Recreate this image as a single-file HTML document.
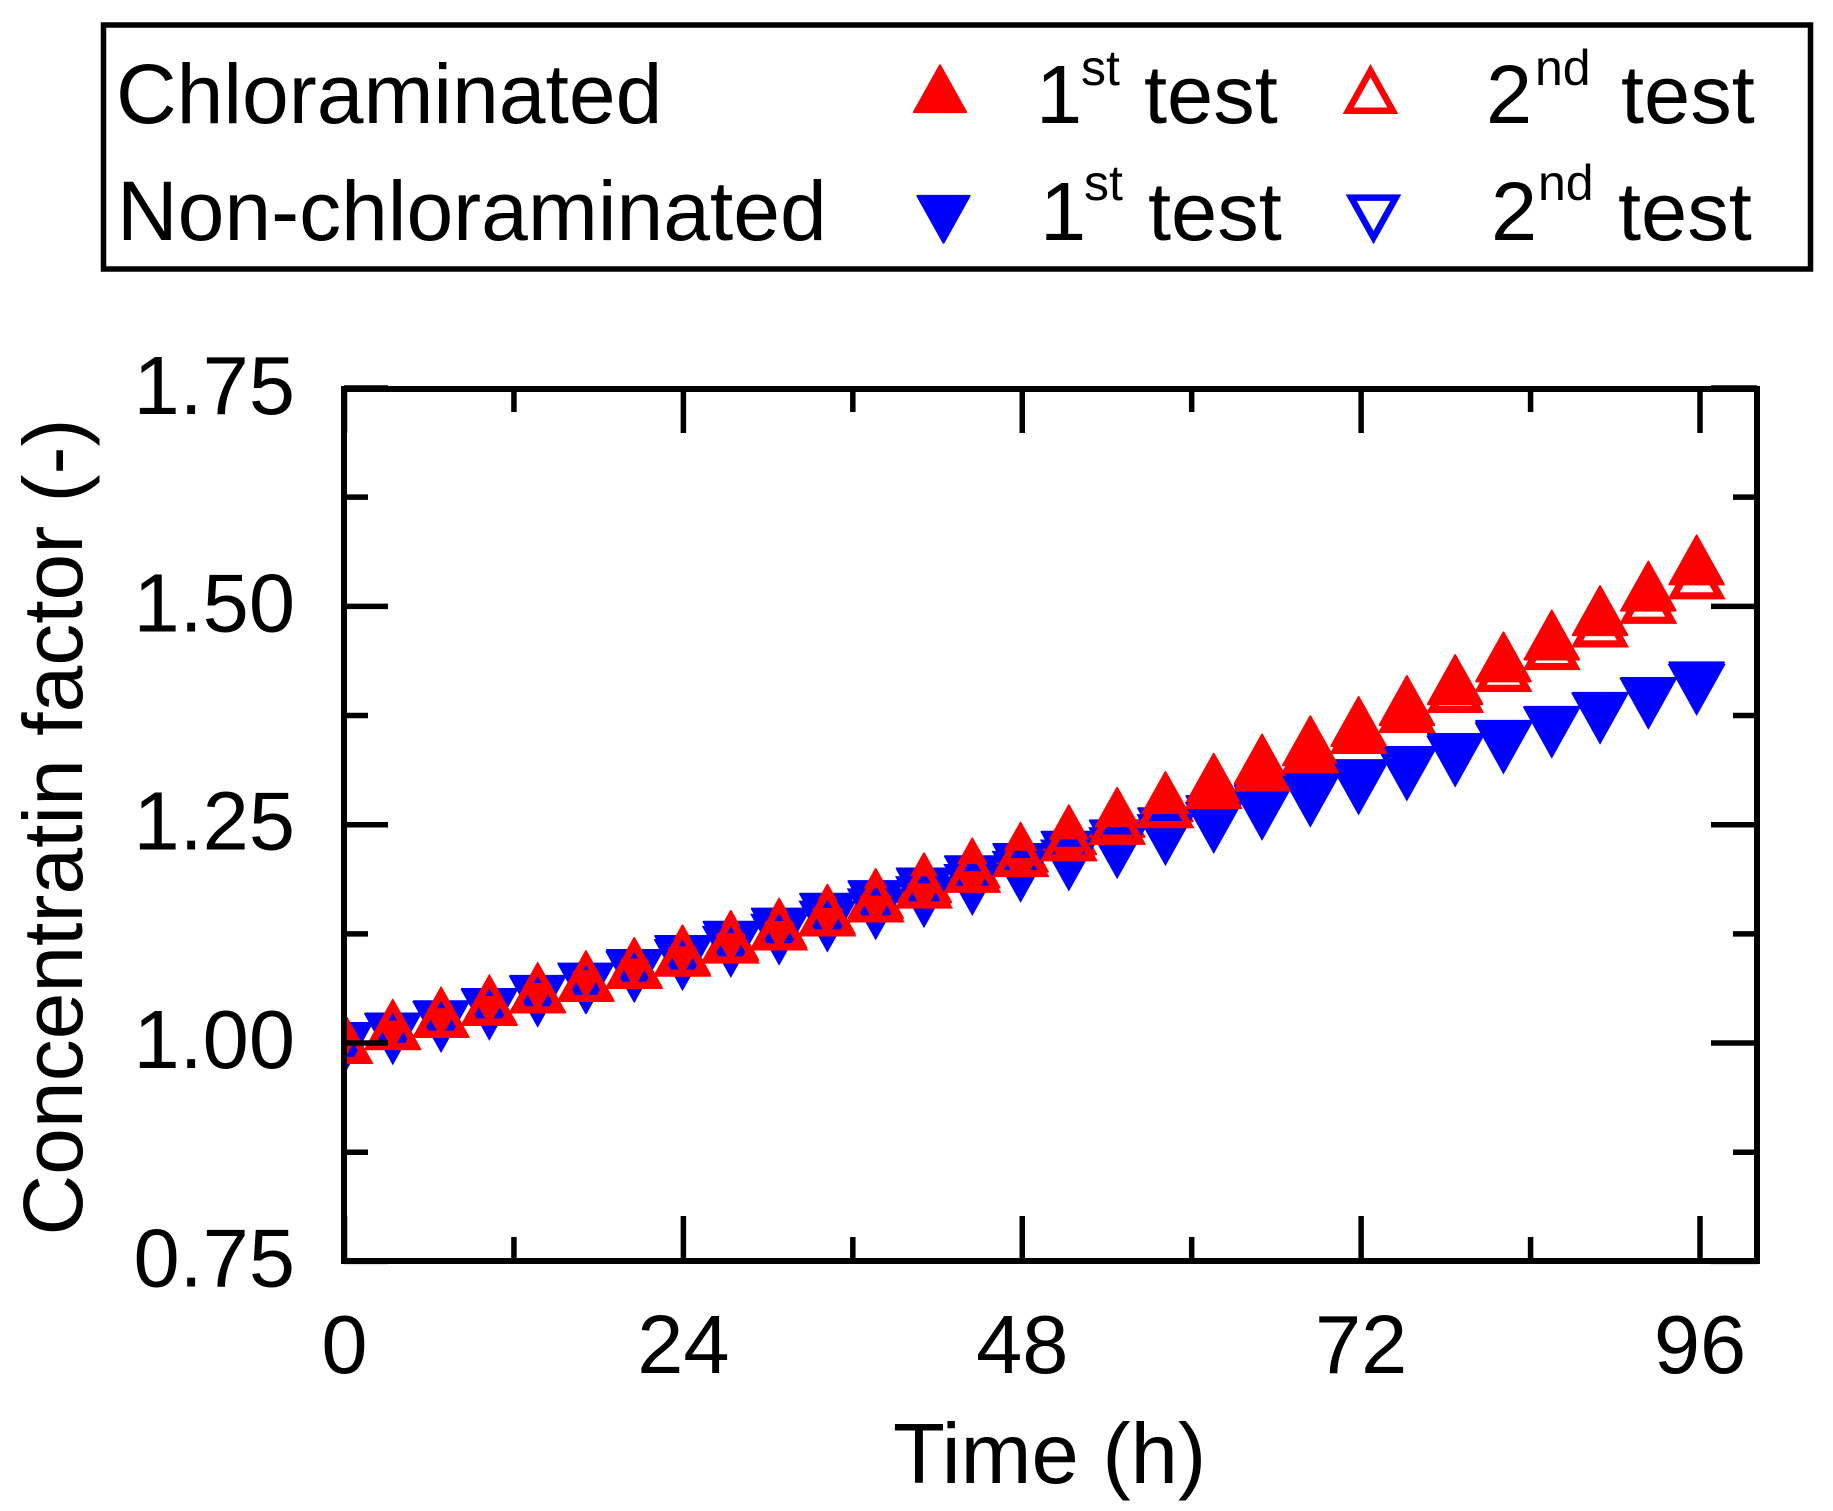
<!DOCTYPE html>
<html>
<head>
<meta charset="utf-8">
<title>Concentration factor chart</title>
<style>
html,body{margin:0;padding:0;background:#fff;}
svg{display:block;}
text{font-family:"Liberation Sans",Arial,sans-serif;fill:#000;font-size:83px;}
.sup{font-size:50px;}
.big{font-size:84px;}
</style>
</head>
<body>
<svg id="chart" width="1833" height="1511" viewBox="0 0 1833 1511" xmlns="http://www.w3.org/2000/svg">
  <rect x="0" y="0" width="1833" height="1511" fill="#fff"/>
  <g id="legend">
    <rect x="103.5" y="25" width="1707" height="244" fill="none" stroke="#000" stroke-width="5.5"/>
    <text class="big" x="116" y="123">Chloraminated</text>
    <text class="big" x="117" y="240">Non-chloraminated</text>
    <g>
      <text x="1036" y="123">1</text><text class="sup" x="1081" y="85">st</text><text x="1144" y="123">test</text>
    </g>
    <g>
      <text x="1486" y="123">2</text><text class="sup" x="1535" y="85">nd</text><text x="1621" y="123">test</text>
    </g>
    <g>
      <text x="1040" y="240">1</text><text class="sup" x="1084" y="200">st</text><text x="1148" y="240">test</text>
    </g>
    <g>
      <text x="1491" y="240">2</text><text class="sup" x="1538" y="200">nd</text><text x="1618" y="240">test</text>
    </g>
  </g>
  <defs>
    <clipPath id="plot-clip"><rect x="344" y="388" width="1413" height="873"/></clipPath>
  </defs>
  <g id="marks" clip-path="url(#plot-clip)"></g>
  <g id="axes"></g>
  <text x="893" y="1483" style="font-size:85px">Time (h)</text>
  <text class="big" text-anchor="middle" transform="translate(82 827) rotate(-90)">Concentratin factor (-)</text>
</svg>
<script>
const times = [0,3.42,6.84,10.26,13.68,17.1,20.52,23.94,27.36,30.78,34.2,37.62,41.04,44.46,47.88,51.3,54.72,58.14,61.56,64.98,68.4,71.82,75.24,78.66,82.08,85.5,88.92,92.34,95.76];
const chloraminatedTest1 = [1.000,1.016,1.030,1.0435,1.058,1.072,1.087,1.1015,1.118,1.132,1.148,1.166,1.184,1.201,1.219,1.239,1.259,1.277,1.298,1.320,1.341,1.363,1.387,1.411,1.437,1.462,1.490,1.518,1.548];
const chloraminatedTest2 = [1.000,1.016,1.030,1.044,1.058,1.071,1.086,1.100,1.115,1.130,1.146,1.162,1.178,1.196,1.214,1.232,1.251,1.270,1.292,1.312,1.333,1.355,1.379,1.402,1.426,1.451,1.477,1.504,1.532];
const nonChloraminatedTest1 = [1.000,1.011,1.025,1.039,1.054,1.0675,1.0836,1.0996,1.116,1.131,1.148,1.1625,1.177,1.191,1.205,1.219,1.232,1.246,1.260,1.272,1.286,1.301,1.316,1.331,1.346,1.362,1.378,1.395,1.413];
const nonChloraminatedTest2 = [1.000,1.010,1.024,1.038,1.053,1.068,1.081,1.095,1.110,1.124,1.139,1.153,1.167,1.181,1.196,1.209,1.223,1.238,1.252,1.267,1.282,1.296,1.312,1.328,1.343,1.361,1.377,1.394,1.410];
const xMajorTicks = [0,24,48,72,96];
const xMinorTicks = [12,36,60,84];
const yMajorTicks = [0.75,1.00,1.25,1.50,1.75];
const yMinorTicks = [0.875,1.125,1.375,1.625];
const xTickLabels = ['0','24','48','72','96'];
const yTickLabels = ['0.75','1.00','1.25','1.50','1.75'];

const NS = 'http://www.w3.org/2000/svg';
const RED = '#ff0000';
const BLUE = '#0000ff';
const xMin = 0, xMax = 100, yMin = 0.75, yMax = 1.75;
const left = 344.5, right = 1756.5, top_ = 389, bottom = 1261.4;
function xScale(t) { return left + (t - xMin) / (xMax - xMin) * (right - left); }
function yScale(v) { return bottom - (v - yMin) / (yMax - yMin) * (bottom - 388); }

// Triangle outline inset so the painted outer edge keeps the same size.
function trianglePoints(cx, cy, dir, scale, strokeW) {
  const inr = 17.04 * scale;
  const k = (inr - strokeW / 2) / inr;
  const inc = 3.96 * scale * dir;
  const pts = [[0, -31 * scale * dir], [29 * scale, 21 * scale * dir], [-29 * scale, 21 * scale * dir]];
  return pts.map(function (p) {
    return (cx + p[0] * k).toFixed(2) + ',' + (cy + inc + (p[1] - inc) * k).toFixed(2);
  }).join(' ');
}
function marker(parent, cx, cy, dir, color, filled, scale, openW) {
  const el = document.createElementNS(NS, 'polygon');
  const w = filled ? 2 : openW;
  el.setAttribute('points', trianglePoints(cx, cy, dir, scale, w));
  el.setAttribute('fill', filled ? color : 'none');
  el.setAttribute('stroke', color);
  el.setAttribute('stroke-width', w);
  el.setAttribute('stroke-linejoin', filled ? 'round' : 'miter');
  el.setAttribute('stroke-miterlimit', '10');
  parent.appendChild(el);
  return el;
}
function drawSeries(values, dir, color, filled, name) {
  const g = document.createElementNS(NS, 'g');
  
  
  document.getElementById('marks').appendChild(g);
  values.forEach(function (v, i) {
    const el = marker(g, xScale(times[i]), yScale(v), dir, color, filled, 1, 7.2);
    
    
  });
}
drawSeries(nonChloraminatedTest1, -1, BLUE, true, 'series-non-chloraminated-test-1');
drawSeries(chloraminatedTest1, 1, RED, true, 'series-chloraminated-test-1');
drawSeries(nonChloraminatedTest2, -1, BLUE, false, 'series-non-chloraminated-test-2');
drawSeries(chloraminatedTest2, 1, RED, false, 'series-chloraminated-test-2');

const legendGroup = document.getElementById('legend');
const lm1 = marker(legendGroup, 940, 93, 1, RED, true, 0.96, 6.5);


const lm2 = marker(legendGroup, 1370.5, 93.8, 1, RED, false, 0.96, 6.5);


const lm3 = marker(legendGroup, 943.5, 215, -1, BLUE, true, 0.96, 6.5);


const lm4 = marker(legendGroup, 1373.5, 214.5, -1, BLUE, false, 0.96, 6.5);



const axes = document.getElementById('axes');
function line(x1, y1, x2, y2, w, name) {
  const el = document.createElementNS(NS, 'line');
  el.setAttribute('x1', x1);
  el.setAttribute('y1', y1);
  el.setAttribute('x2', x2);
  el.setAttribute('y2', y2);
  el.setAttribute('stroke', '#000');
  el.setAttribute('stroke-width', w);
  
  
  axes.appendChild(el);
}
function label(str, x, y, anchor, name) {
  const el = document.createElementNS(NS, 'text');
  el.textContent = str;
  el.setAttribute('x', x);
  el.setAttribute('y', y);
  el.setAttribute('text-anchor', anchor);
  
  
  axes.appendChild(el);
}
const tickW = 5.5;
xMajorTicks.forEach(function (t, i) {
  const x = xScale(t);
  line(x, 1261, x, 1216, tickW, 'x-major-tick-bottom');
  line(x, 389, x, 433, tickW, 'x-major-tick-top');
  label(xTickLabels[i], x, 1373, 'middle', 'x-tick-label');
});
xMinorTicks.forEach(function (t) {
  const x = xScale(t);
  line(x, 1261, x, 1237, tickW, 'x-minor-tick-bottom');
  line(x, 389, x, 412, tickW, 'x-minor-tick-top');
});
yMajorTicks.forEach(function (v, i) {
  const y = yScale(v);
  line(344, y, 388, y, tickW, 'y-major-tick-left');
  line(1757, y, 1711, y, tickW, 'y-major-tick-right');
  label(yTickLabels[i], 295, y + (v === yMax ? 26 : 25), 'end', 'y-tick-label');
});
yMinorTicks.forEach(function (v) {
  const y = yScale(v);
  line(344, y, 368, y, tickW, 'y-minor-tick-left');
  line(1757, y, 1733, y, tickW, 'y-minor-tick-right');
});
const frame = document.createElementNS(NS, 'rect');
frame.setAttribute('x', 344);
frame.setAttribute('y', top_);
frame.setAttribute('width', 1413);
frame.setAttribute('height', 872);
frame.setAttribute('fill', 'none');
frame.setAttribute('stroke', '#000');
frame.setAttribute('stroke-width', 6);


axes.appendChild(frame);
</script>
</body>
</html>
